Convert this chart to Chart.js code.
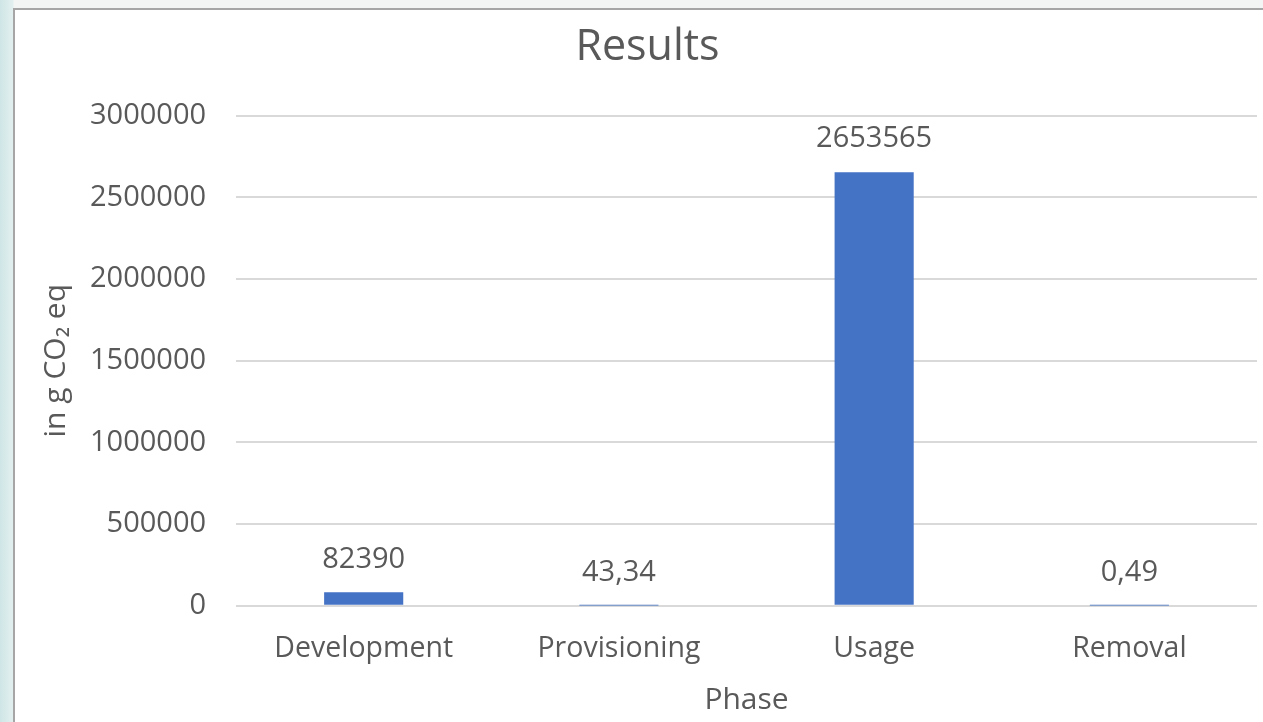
<!DOCTYPE html>
<html>
<head>
<meta charset="utf-8">
<script src="https://cdn.jsdelivr.net/npm/chart.js@4/dist/chart.umd.min.js"></script>
<style>
  html, body { margin: 0; padding: 0; width: 1263px; height: 722px; overflow: hidden; }
  body { background: linear-gradient(90deg, #cfe6e6 0px, #e3efef 13px, #f3f5f5 14px); }
  #frame {
    position: absolute; left: 13px; top: 8px; width: 1260px; height: 730px;
    background: #ffffff; border-top: 2px solid #a6a6a6; border-left: 2px solid #a6a6a6;
  }
  #wrap { position: absolute; left: 0; top: 0; width: 1248px; height: 712px; }
</style>
</head>
<body>
<div id="frame">
  <div id="wrap"><canvas id="chart"></canvas></div>
</div>
<script>
const phases = ["Development", "Provisioning", "Usage", "Removal"];
const emissions = [82390, 43.34, 2653565, 0.49];
const valueLabels = ["82390", "43,34", "2653565", "0,49"];
const yTicks = [0, 500000, 1000000, 1500000, 2000000, 2500000, 3000000];

const textColor = "#595959";
const fontFamily = "'Open Sans', 'Noto Sans', sans-serif";

const barLabels = {
  id: "barLabels",
  afterDatasetsDraw(chart) {
    const ctx = chart.ctx;
    const meta = chart.getDatasetMeta(0);
    ctx.save();
    ctx.fillStyle = textColor;
    ctx.font = `29px ${fontFamily}`;
    ctx.textAlign = "center";
    ctx.textBaseline = "middle";
    meta.data.forEach((bar, i) => {
      ctx.fillText(valueLabels[i], bar.x, bar.y - 33);
    });
    ctx.restore();
  },
};

new Chart("chart", {
  type: "bar",
  data: {
    labels: phases,
    datasets: [
      {
        data: emissions,
        backgroundColor: "#4472C4",
        barPercentage: 0.31,
        categoryPercentage: 1,
      },
    ],
  },
  options: {
    responsive: true,
    maintainAspectRatio: false,
    animation: false,
    layout: { padding: { left: 23, right: 6, top: 8, bottom: 4 } },
    plugins: {
      legend: { display: false },
      tooltip: { enabled: false },
      title: {
        display: true,
        text: "Results",
        color: textColor,
        font: { size: 43, family: fontFamily, weight: "normal" },
        padding: { top: 4, bottom: 42 },
      },
    },
    scales: {
      x: {
        grid: { display: false },
        border: { display: false },
        ticks: {
          color: textColor,
          font: { size: 28.5, family: fontFamily },
          padding: 18,
        },
        title: {
          display: true,
          text: "Phase",
          color: textColor,
          font: { size: 30, family: fontFamily },
          padding: { top: -2, bottom: 0 },
        },
      },
      y: {
        min: 0,
        max: 3000000,
        afterBuildTicks: (axis) => {
          axis.ticks = yTicks.map((v) => ({ value: v }));
        },
        grid: { color: "#d9d9d9", lineWidth: 2, drawTicks: false },
        border: { display: false },
        ticks: {
          color: textColor,
          font: { size: 29, family: fontFamily },
          padding: 30,
          callback: (v) => String(v),
        },
        title: {
          display: true,
          text: "in g CO₂ eq",
          color: textColor,
          font: { size: 30, family: fontFamily },
          padding: { top: 0, bottom: -14 },
        },
      },
    },
  },
  plugins: [barLabels],
});
</script>
</body>
</html>
